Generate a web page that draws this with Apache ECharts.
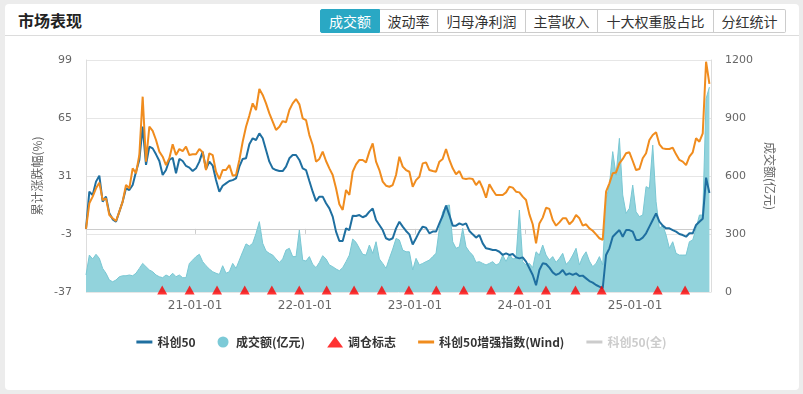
<!DOCTYPE html>
<html><head><meta charset="utf-8">
<script src="https://cdn.jsdelivr.net/npm/echarts@6/dist/echarts.min.js"></script>
<style>
html,body{margin:0;padding:0;width:803px;height:394px;background:#ececec;overflow:hidden;font-family:"Noto Sans CJK SC","Noto Sans",sans-serif;}
#card{position:absolute;left:5px;top:4px;width:794px;height:386px;background:#fff;border-radius:4px;}
#title{position:absolute;left:13px;top:6px;font-size:16px;font-weight:bold;color:#222;line-height:20px;}
#sep{position:absolute;left:0;top:31px;width:794px;height:1px;background:#dcdcdc;}
#tabs{position:absolute;left:315px;top:5px;height:24px;display:flex;}
.tab{box-sizing:border-box;height:24px;line-height:22px;border:1px solid #ccc;border-left:none;font-size:14px;color:#333;text-align:center;}
.tab.first{border-left:1px solid #ccc;border-radius:2px 0 0 2px;}
.tab.last{border-radius:0 2px 2px 0;}
.tab.active{background:#2aa8c4;color:#fff;border-color:#2aa8c4;}
#chart{position:absolute;left:0;top:0;width:803px;height:394px;}
</style>
</head>
<body>
<div id="card">
  <div id="title">市场表现</div>
  <div id="tabs">
    <div class="tab first active" style="width:60px">成交额</div>
    <div class="tab" style="width:58px">波动率</div>
    <div class="tab" style="width:88px">归母净利润</div>
    <div class="tab" style="width:72px">主营收入</div>
    <div class="tab" style="width:116px">十大权重股占比</div>
    <div class="tab last" style="width:72px">分红统计</div>
  </div>
  <div id="sep"></div>
</div>
<div id="chart"></div>
<script>
// ---- data (sampled roughly every 11 days from 2020-01-05) ----
const kc50 = [0,21.8,19.8,27.7,31.2,16,18.9,9.1,5.6,4.2,10.1,16,23.8,22.8,25.7,33.5,40.4,60,37.5,48.2,47.2,43.7,39.8,31.6,34.5,40.4,41.7,32.6,41,39.8,36.9,35.9,33.9,35.5,39.4,45.3,35.1,39.4,37.1,28.6,21.8,25.3,26.7,28.1,28.6,29.6,36.5,41,
41.4,49.6,53.1,52.1,56,53.1,46.2,39.4,35.5,34.5,33.9,33.9,36.5,41.4,43.3,43.3,40.4,35.5,34.5,28.1,21.8,16.3,18.9,18.9,15,12,7.2,-1.6,-7.1,-7.1,0.3,-0.7,7.7,7.6,8.1,6.8,7.7,10.1,12,5.2,2.3,-0.7,-5.5,-6.5,-5.5,0.3,4.2,1.3,
-1.2,-3.2,-9.1,-5.5,-1.6,1.3,0.7,-2.6,-1.6,-1.6,3.2,7.7,13.6,8.1,1.9,1.9,3.2,2.3,3.2,-1.2,-3.2,-5.1,-3.6,-8.5,-11.4,-11.8,-12.4,-12.4,-13.4,-15.3,-14.3,-15.3,-14.7,-16.7,-17.3,-16.7,-19.2,-23.1,-27,-33,-24.1,-20.2,-20.6,-22.7,-25.5,-27,-26.1,-24.1,
-27,-26.1,-27,-26.1,-27.6,-27.4,-29,-30.6,-31.5,-32.9,-33.9,-34.8,-15.3,-11.4,-4.6,-2.6,-0.7,-4.6,-0.7,-0.7,-1.6,-6.5,-6.5,-5.1,-2.6,1.3,5.2,9.1,4.2,1.9,0.3,0.3,-0.7,-1.6,-3,-3.6,-4.6,-2.6,-2.6,2.3,4.2,6,30,21];

const enhanced = [0,15,18.9,23.8,27.1,16.9,17.9,8.1,6.2,4.6,10.1,16,25.7,23.8,35.5,32.6,43.3,77.5,39.4,59.9,57.4,52.1,45.3,42.3,37.4,41.4,49.6,43.3,46.8,45.6,48.2,43.3,43.7,43.7,46.8,44.9,34.5,44.3,43.3,33.5,29.2,34.5,34.5,37.4,31.2,31.6,40.4,51.1,
59.9,66.4,73.6,69.7,82,78.5,73.6,67.7,62.9,58,59.9,63.2,62.5,69.7,73.6,76.1,73,64.8,63.8,55,49.2,39.4,41,45.3,39.8,35.5,31.6,23.8,14.4,11.1,22.8,19.9,33.5,37.8,40.4,40.4,39,45.3,50.1,39.4,34.5,27.7,25.3,24.7,25.7,31.6,42.3,36.5,
34.5,33.5,24.7,28.6,30.6,38.4,39,34.5,33.9,33.5,39.4,41,46.8,40.4,35.5,32,33.9,29.6,29.2,29.6,29.2,25.7,28.1,23.8,18.3,26.1,22.8,19.9,19.9,19.9,21.4,24.7,24.2,21.8,21.4,18.9,16.9,8.5,2.7,-8.5,3.2,6.6,12.4,11.7,5.2,1.9,3.8,6.2,
6.2,2.7,4.6,8.1,6.2,1.9,2.7,0.3,-1.1,-3.2,-5.5,-6.5,21.8,26.7,32.6,33.1,38.4,41,44.3,44.9,39.8,34.5,35.1,41.4,44.3,52.1,55,56.6,49.6,47.2,46.8,46.8,47.6,43.7,40.4,39.4,37.4,42.3,44.9,53.1,51.1,56,98,85];

const turnover = [88,191,171,195,174,122,97,62,53,62,79,84,84,88,84,97,122,148,131,114,105,88,79,74,88,79,97,79,88,74,74,148,165,183,195,157,136,119,105,97,91,136,97,105,148,122,165,208,
249,238,252,303,364,252,212,200,191,171,153,171,217,226,183,183,321,165,160,183,143,126,153,188,171,140,131,119,110,126,157,191,274,257,226,195,191,243,200,260,171,148,122,174,222,277,269,217,
208,208,114,174,140,148,157,165,183,200,329,415,446,450,260,226,234,329,234,208,191,153,157,148,140,148,157,140,148,191,157,195,171,174,424,157,140,148,126,208,191,243,191,165,183,153,174,200,
143,160,191,226,140,183,208,160,131,148,183,140,480,553,726,605,795,502,407,433,553,415,390,398,545,536,760,467,329,346,295,226,260,200,191,191,191,260,269,329,398,398,1000,1060];

const rebalanceDates = ['2020-09-14','2020-12-14','2021-03-15','2021-06-15','2021-09-13','2021-12-13','2022-03-14','2022-06-13','2022-09-13','2022-12-12','2023-03-13','2023-06-12','2023-09-11','2023-12-11','2024-03-11','2024-06-17','2024-09-12','2025-03-17','2025-06-16'];
const rebalanceLevel = -37;

const leftTicks = {min: -37, max: 99, interval: 34};
const rightTicks = {min: 0, max: 1200, interval: 300};

const T0 = Date.UTC(2020, 0, 5);
const STEP_DAYS = 11.068;
const DAY = 86400000;
const sampleDates = kc50.map((_, i) => T0 + i * STEP_DAYS * DAY);
const xEnd = Date.UTC(2025, 8, 10);

const pair = (arr) => arr.map((v, i) => [sampleDates[i], v]);

// plain line legend icon (3px bar centred in a 16x11 box)
const LINE_ICON = 'path://M0,0M16,11M0,4H16V7H0Z';

const chart = echarts.init(document.getElementById('chart'), null, {renderer: 'canvas'});
const option = {
  useUTC: true,
  animation: false,
  backgroundColor: 'transparent',
  textStyle: {fontFamily: 'DejaVu Sans'},
  grid: {left: 86, right: 92, top: 60, bottom: 102},
  legend: {
    top: 331, left: 'center', itemGap: 22, itemWidth: 16, itemHeight: 11,
    textStyle: {color: '#333', fontSize: 12, fontWeight: 'bold', fontFamily: 'Noto Sans CJK SC'},
    inactiveColor: '#ccc',
    selected: {'科创50(全)': false},
    data: [
      {name: '科创50', icon: LINE_ICON},
      {name: '成交额(亿元)', icon: 'circle'},
      {name: '调仓标志', icon: 'triangle'},
      {name: '科创50增强指数(Wind)', icon: LINE_ICON},
      {name: '科创50(全)', icon: LINE_ICON}
    ]
  },
  xAxis: {
    type: 'time', min: sampleDates[0], max: xEnd,
    axisLine: {show: true, lineStyle: {color: '#ccc'}},
    axisTick: {show: true, length: 5, lineStyle: {color: '#ccc'}},
    axisLabel: {color: '#666', fontSize: 12, margin: 8, formatter: '{yy}-{MM}-{dd}', showMinLabel: false, showMaxLabel: false},
    splitLine: {show: false}
  },
  yAxis: [
    {
      type: 'value', min: leftTicks.min, max: leftTicks.max, interval: leftTicks.interval,
      name: '累计涨跌幅(%)', nameLocation: 'middle', nameGap: 43,
      nameTextStyle: {color: '#666', fontSize: 12, fontFamily: 'Noto Sans CJK SC'},
      axisLine: {show: true, lineStyle: {color: '#ddd'}},
      axisTick: {show: false},
      axisLabel: {color: '#666', fontSize: 11, margin: 14, formatter: v => String(v)},
      splitLine: {show: true, lineStyle: {color: '#e6e6e6'}}
    },
    {
      type: 'value', position: 'right', min: rightTicks.min, max: rightTicks.max, interval: rightTicks.interval,
      name: '成交额(亿元)', nameLocation: 'middle', nameRotate: -90, nameGap: 51,
      nameTextStyle: {color: '#666', fontSize: 12, fontFamily: 'Noto Sans CJK SC'},
      axisLine: {show: true, lineStyle: {color: '#ddd'}},
      axisTick: {show: false},
      axisLabel: {color: '#666', fontSize: 11, margin: 14, formatter: v => String(v)},
      splitLine: {show: false}
    }
  ],
  series: [
    {
      name: '科创50', type: 'line', yAxisIndex: 0, symbol: 'none', z: 3,
      color: '#1f6fa0', lineStyle: {width: 2, color: '#1f6fa0'},
      data: pair(kc50)
    },
    {
      name: '成交额(亿元)', type: 'line', yAxisIndex: 1, symbol: 'none', z: 1,
      color: '#7ccad7', lineStyle: {width: 1, color: '#79c7d3'},
      areaStyle: {color: '#92d3dc', opacity: 1},
      data: pair(turnover)
    },
    {
      name: '调仓标志', type: 'scatter', yAxisIndex: 0, z: 5,
      symbol: 'triangle', symbolSize: [10, 9], symbolOffset: [0, -2],
      color: '#ff0000', itemStyle: {color: '#ff0000'},
      data: rebalanceDates.map(d => [d, rebalanceLevel])
    },
    {
      name: '科创50增强指数(Wind)', type: 'line', yAxisIndex: 0, symbol: 'none', z: 3,
      color: '#f08c1e', lineStyle: {width: 2, color: '#f08c1e'},
      data: pair(enhanced)
    },
    {
      name: '科创50(全)', type: 'line', yAxisIndex: 0, symbol: 'none', z: 2,
      color: '#c8c8c8', lineStyle: {width: 2, color: '#c8c8c8'},
      data: []
    }
  ]
};
chart.setOption(option);
</script>
</body></html>
